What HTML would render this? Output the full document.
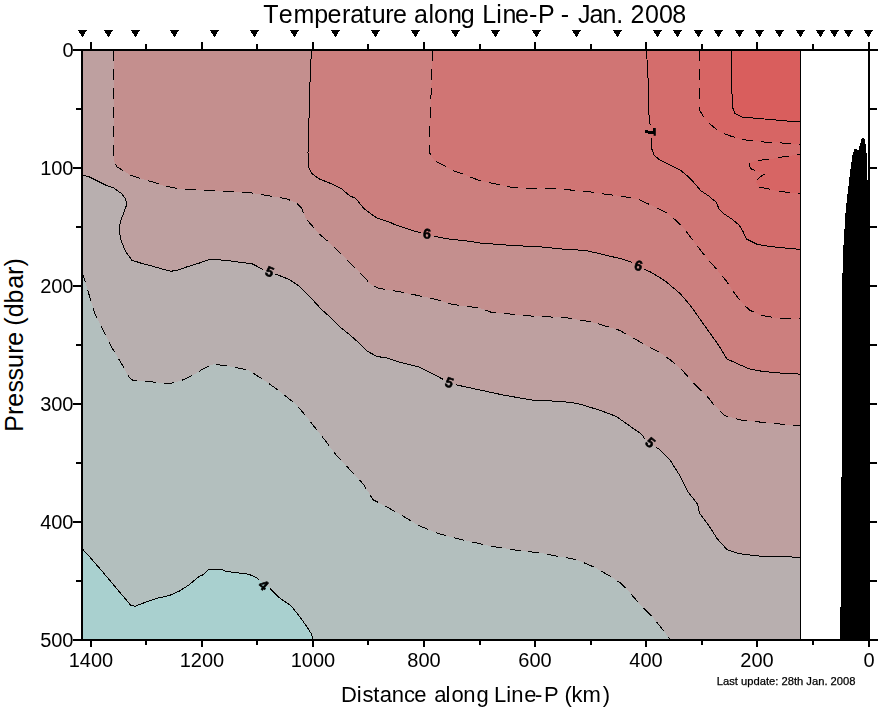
<!DOCTYPE html>
<html><head><meta charset="utf-8"><title>Temperature along Line-P - Jan. 2008</title>
<style>html,body{margin:0;padding:0;background:#fff;overflow:hidden}svg{display:block}
text{font-family:"Liberation Sans",sans-serif;font-kerning:none}</style></head>
<body>
<svg width="878" height="708" viewBox="0 0 878 708" font-family="Liberation Sans, sans-serif">
<rect width="878" height="708" fill="#fff"/>
<g shape-rendering="crispEdges">
<rect x="82" y="50" width="718" height="590" fill="#b3bfbe"/>
<polygon points="82.0,548.5 90.0,557.3 100.9,569.8 116.6,588.5 131.0,605.5 135.2,606.2 146.5,601.9 156.4,598.4 169.1,595.6 179.0,591.3 188.9,585.0 195.0,579.9 199.3,576.4 202.8,574.9 209.2,569.2 222.0,569.2 224.9,571.0 236.3,572.8 244.8,573.5 252.0,575.4 257.6,578.5 263.0,583.0 269.0,587.7 277.6,596.3 283.3,600.6 289.7,604.8 293.2,608.4 300.4,617.6 307.5,627.6 311.0,633.3 313.2,640.0 82.0,640.0" fill="#a9d0cf"/>
<polygon points="82.0,271.8 86.4,285.6 90.6,300.0 94.8,313.3 103.7,331.1 112.6,348.8 121.5,363.6 128.9,377.0 133.3,380.8 148.1,381.4 168.8,383.8 180.7,380.8 192.5,375.5 204.4,368.1 213.3,364.2 228.0,366.0 248.8,370.2 263.6,379.9 278.4,390.3 293.2,402.1 300.0,408.9 311.9,423.7 323.7,438.6 335.6,454.4 349.4,469.2 363.3,484.1 373.2,499.9 383.1,504.8 398.9,513.7 418.7,525.6 438.4,533.5 456.2,538.4 489.0,545.8 521.0,551.0 540.0,552.8 558.2,556.4 572.8,558.8 581.9,561.9 594.7,567.4 609.2,575.6 620.2,582.8 629.3,592.0 640.2,604.7 651.2,615.6 660.3,626.6 669.4,638.4 670.5,640.0 800.0,640.0 800.0,50.0 82.0,50.0" fill="#b8afaf"/>
<polygon points="82.0,175.0 88.5,176.5 97.0,180.7 105.4,185.0 113.9,188.1 121.3,193.4 125.6,198.7 126.6,205.0 123.4,213.6 120.3,222.0 119.2,230.5 121.3,241.1 125.6,251.7 131.9,260.2 141.4,263.3 152.0,266.1 162.6,269.1 171.1,271.2 177.5,270.3 188.0,266.5 198.6,263.3 209.2,259.7 217.7,259.7 228.3,260.6 240.0,262.3 251.8,263.6 265.0,270.4 280.0,275.8 289.9,279.8 299.8,286.7 309.7,296.6 321.5,309.4 331.4,318.3 341.3,328.2 349.2,334.2 359.1,343.1 367.0,351.0 376.9,356.5 386.8,357.9 398.7,361.9 418.4,366.8 430.3,372.7 440.0,377.7 448.7,382.1 456.8,385.0 481.0,390.2 505.0,395.4 533.2,400.2 561.4,401.4 577.4,403.4 600.0,410.3 616.0,416.3 634.8,429.5 641.4,434.1 644.8,438.8 650.5,442.5 655.0,446.3 660.0,449.9 669.9,459.8 679.8,475.6 687.7,491.4 697.6,504.3 699.5,513.2 708.4,525.0 717.3,538.9 727.2,549.7 739.1,553.7 764.8,556.7 800.0,557.1 800.0,50.0 82.0,50.0" fill="#bea0a0"/>
<polygon points="113.6,50.0 113.5,100.0 113.5,152.0 113.9,160.6 117.0,167.0 122.4,170.1 130.8,175.4 141.4,178.6 152.0,181.8 164.7,186.0 177.5,188.6 196.5,189.8 217.7,190.9 240.0,192.0 248.0,192.3 256.5,193.8 273.6,196.6 286.0,198.6 295.8,202.5 301.7,208.4 305.7,218.3 311.6,225.2 319.5,234.1 327.4,241.0 339.3,252.0 348.2,261.0 355.2,267.9 363.0,275.8 370.0,283.7 376.9,287.7 386.8,289.7 398.7,291.6 408.6,293.6 418.4,295.6 428.3,297.6 440.0,300.5 452.6,304.5 480.0,308.0 490.7,312.1 528.8,315.9 567.0,317.8 589.9,321.6 600.0,324.4 619.8,330.4 647.5,346.2 660.0,352.5 670.0,359.7 681.9,369.8 695.4,385.1 709.0,398.6 713.4,404.3 718.7,409.5 724.6,415.5 738.5,419.4 743.3,420.4 769.5,423.0 800.0,426.0 800.0,50.0" fill="#c48f8e"/>
<polygon points="311.5,50.0 310.8,62.6 309.9,85.2 309.2,107.8 308.8,130.4 308.0,153.0 308.5,166.5 311.5,173.3 319.4,179.0 330.7,183.5 342.0,189.1 349.6,195.8 355.5,198.2 363.0,207.5 364.8,209.1 372.9,215.4 378.2,218.6 388.7,221.7 395.3,224.9 414.0,231.0 420.0,232.5 427.0,234.5 444.9,238.5 471.6,241.5 480.0,243.0 509.8,245.3 547.9,247.3 555.0,248.6 586.0,250.5 611.5,256.5 623.7,259.5 632.8,262.8 638.0,265.5 644.0,269.3 649.7,271.6 655.3,274.8 665.4,281.2 670.0,285.1 680.2,293.6 690.3,305.4 700.5,319.8 710.7,334.2 719.2,346.1 726.8,358.8 737.8,363.9 749.7,369.0 763.2,371.5 781.9,373.2 800.0,374.1 800.0,50.0" fill="#cc7f7e"/>
<polygon points="432.3,50.0 431.9,73.9 430.5,107.8 429.6,134.9 429.6,153.0 434.6,160.9 443.6,165.4 452.7,170.6 464.0,174.4 479.3,180.5 509.8,187.0 528.9,188.4 547.9,188.1 574.0,190.3 586.0,191.2 607.9,194.6 620.0,195.8 639.6,199.8 647.6,203.6 657.8,208.2 668.0,213.8 675.6,220.1 683.2,227.8 688.3,234.1 694.7,243.0 701.0,250.7 708.7,260.8 713.8,265.9 720.1,273.6 726.5,281.2 734.1,292.6 741.8,302.8 749.4,309.9 759.6,315.0 777.4,318.1 800.0,319.0 800.0,50.0" fill="#d07574"/>
<polygon points="646.5,50.0 648.0,77.6 649.0,115.0 651.0,132.0 651.4,147.6 654.0,155.3 660.4,160.4 670.5,165.4 680.7,170.5 687.0,175.6 693.4,182.0 701.0,190.9 708.7,196.0 716.3,202.3 718.9,208.7 724.0,213.8 731.6,218.9 739.2,225.2 743.0,231.6 746.8,239.2 757.0,244.3 772.3,246.8 800.0,249.4 800.0,50.0" fill="#d46d6c"/>
<polygon points="699.5,50.0 699.5,110.0 704.4,118.0 711.0,124.8 719.0,131.6 730.5,136.0 741.8,139.5 757.0,141.3 765.4,142.1 777.3,142.4 787.5,143.6 800.0,144.3 800.0,50.0" fill="#d76564"/>
<polygon points="800.0,154.4 789.0,156.0 778.0,157.5 769.0,159.5 760.0,159.7 758.0,160.3 749.3,162.9 749.7,166.3 751.0,168.8 754.8,170.5 764.6,173.9 760.0,177.0 757.0,179.8 756.0,182.4 759.5,187.0 769.7,189.2 779.0,191.3 790.0,192.5 800.0,193.4" fill="#d76564"/>
<polygon points="732.0,50.0 731.6,62.6 731.6,85.2 732.7,107.8 735.0,113.5 741.8,117.0 764.4,119.0 787.0,121.0 800.0,121.9 800.0,50.0" fill="#d95e5d"/>
</g>
<g shape-rendering="crispEdges">
<polyline points="82.0,548.5 90.0,557.3 100.9,569.8 116.6,588.5 131.0,605.5 135.2,606.2 146.5,601.9 156.4,598.4 169.1,595.6 179.0,591.3 188.9,585.0 195.0,579.9 199.3,576.4 202.8,574.9 209.2,569.2 222.0,569.2 224.9,571.0 236.3,572.8 244.8,573.5 252.0,575.4 257.6,578.5 259.1,579.8" fill="none" stroke="#000" stroke-width="1"/>
<polyline points="269.7,588.4 277.6,596.3 283.3,600.6 289.7,604.8 293.2,608.4 300.4,617.6 307.5,627.6 311.0,633.3 313.2,640.0" fill="none" stroke="#000" stroke-width="1"/>
<polyline points="82.0,271.8 86.4,285.6 90.6,300.0 94.8,313.3 103.7,331.1 112.6,348.8 121.5,363.6 128.9,377.0 133.3,380.8 148.1,381.4 168.8,383.8 180.7,380.8 192.5,375.5 204.4,368.1 213.3,364.2 228.0,366.0 248.8,370.2 263.6,379.9 278.4,390.3 293.2,402.1 300.0,408.9 311.9,423.7 323.7,438.6 335.6,454.4 349.4,469.2 363.3,484.1 373.2,499.9 383.1,504.8 398.9,513.7 418.7,525.6 438.4,533.5 456.2,538.4 489.0,545.8 521.0,551.0 540.0,552.8 558.2,556.4 572.8,558.8 581.9,561.9 594.7,567.4 609.2,575.6 620.2,582.8 629.3,592.0 640.2,604.7 651.2,615.6 660.3,626.6 669.4,638.4 670.5,640.0" fill="none" stroke="#000" stroke-width="1" stroke-dasharray="11 8"/>
<polyline points="82.0,175.0 88.5,176.5 97.0,180.7 105.4,185.0 113.9,188.1 121.3,193.4 125.6,198.7 126.6,205.0 123.4,213.6 120.3,222.0 119.2,230.5 121.3,241.1 125.6,251.7 131.9,260.2 141.4,263.3 152.0,266.1 162.6,269.1 171.1,271.2 177.5,270.3 188.0,266.5 198.6,263.3 209.2,259.7 217.7,259.7 228.3,260.6 240.0,262.3 251.8,263.6 263.2,269.5" fill="none" stroke="#000" stroke-width="1"/>
<polyline points="275.6,274.2 280.0,275.8 289.9,279.8 299.8,286.7 309.7,296.6 321.5,309.4 331.4,318.3 341.3,328.2 349.2,334.2 359.1,343.1 367.0,351.0 376.9,356.5 386.8,357.9 398.7,361.9 418.4,366.8 430.3,372.7 440.0,377.7 443.2,379.3" fill="none" stroke="#000" stroke-width="1"/>
<polyline points="455.8,384.7 456.8,385.0 481.0,390.2 505.0,395.4 533.2,400.2 561.4,401.4 577.4,403.4 600.0,410.3 616.0,416.3 634.8,429.5 641.4,434.1 644.8,438.8" fill="none" stroke="#000" stroke-width="1"/>
<polyline points="655.8,446.9 660.0,449.9 669.9,459.8 679.8,475.6 687.7,491.4 697.6,504.3 699.5,513.2 708.4,525.0 717.3,538.9 727.2,549.7 739.1,553.7 764.8,556.7 800.0,557.1" fill="none" stroke="#000" stroke-width="1"/>
<polyline points="113.6,50.0 113.5,100.0 113.5,152.0 113.9,160.6 117.0,167.0 122.4,170.1 130.8,175.4 141.4,178.6 152.0,181.8 164.7,186.0 177.5,188.6 196.5,189.8 217.7,190.9 240.0,192.0 248.0,192.3 256.5,193.8 273.6,196.6 286.0,198.6 295.8,202.5 301.7,208.4 305.7,218.3 311.6,225.2 319.5,234.1 327.4,241.0 339.3,252.0 348.2,261.0 355.2,267.9 363.0,275.8 370.0,283.7 376.9,287.7 386.8,289.7 398.7,291.6 408.6,293.6 418.4,295.6 428.3,297.6 440.0,300.5 452.6,304.5 480.0,308.0 490.7,312.1 528.8,315.9 567.0,317.8 589.9,321.6 600.0,324.4 619.8,330.4 647.5,346.2 660.0,352.5 670.0,359.7 681.9,369.8 695.4,385.1 709.0,398.6 713.4,404.3 718.7,409.5 724.6,415.5 738.5,419.4 743.3,420.4 769.5,423.0 800.0,426.0" fill="none" stroke="#000" stroke-width="1" stroke-dasharray="11 8"/>
<polyline points="311.5,50.0 310.8,62.6 309.9,85.2 309.2,107.8 308.8,130.4 308.0,153.0 308.5,166.5 311.5,173.3 319.4,179.0 330.7,183.5 342.0,189.1 349.6,195.8 355.5,198.2 363.0,207.5 364.8,209.1 372.9,215.4 378.2,218.6 388.7,221.7 395.3,224.9 414.0,231.0 420.0,232.5 420.5,232.6" fill="none" stroke="#000" stroke-width="1"/>
<polyline points="433.5,235.9 444.9,238.5 471.6,241.5 480.0,243.0 509.8,245.3 547.9,247.3 555.0,248.6 586.0,250.5 611.5,256.5 623.7,259.5 632.3,262.6" fill="none" stroke="#000" stroke-width="1"/>
<polyline points="644.0,269.3 649.7,271.6 655.3,274.8 665.4,281.2 670.0,285.1 680.2,293.6 690.3,305.4 700.5,319.8 710.7,334.2 719.2,346.1 726.8,358.8 737.8,363.9 749.7,369.0 763.2,371.5 781.9,373.2 800.0,374.1" fill="none" stroke="#000" stroke-width="1"/>
<polyline points="432.3,50.0 431.9,73.9 430.5,107.8 429.6,134.9 429.6,153.0 434.6,160.9 443.6,165.4 452.7,170.6 464.0,174.4 479.3,180.5 509.8,187.0 528.9,188.4 547.9,188.1 574.0,190.3 586.0,191.2 607.9,194.6 620.0,195.8 639.6,199.8 647.6,203.6 657.8,208.2 668.0,213.8 675.6,220.1 683.2,227.8 688.3,234.1 694.7,243.0 701.0,250.7 708.7,260.8 713.8,265.9 720.1,273.6 726.5,281.2 734.1,292.6 741.8,302.8 749.4,309.9 759.6,315.0 777.4,318.1 800.0,319.0" fill="none" stroke="#000" stroke-width="1" stroke-dasharray="11 8"/>
<polyline points="646.5,50.0 648.0,77.6 649.0,115.0 650.2,125.5" fill="none" stroke="#000" stroke-width="1"/>
<polyline points="651.2,138.5 651.4,147.6 654.0,155.3 660.4,160.4 670.5,165.4 680.7,170.5 687.0,175.6 693.4,182.0 701.0,190.9 708.7,196.0 716.3,202.3 718.9,208.7 724.0,213.8 731.6,218.9 739.2,225.2 743.0,231.6 746.8,239.2 757.0,244.3 772.3,246.8 800.0,249.4" fill="none" stroke="#000" stroke-width="1"/>
<polyline points="699.5,50.0 699.5,110.0 704.4,118.0 711.0,124.8 719.0,131.6 730.5,136.0 741.8,139.5 757.0,141.3 765.4,142.1 777.3,142.4 787.5,143.6 800.0,144.3" fill="none" stroke="#000" stroke-width="1" stroke-dasharray="11 8"/>
<polyline points="732.0,50.0 731.6,62.6 731.6,85.2 732.7,107.8 735.0,113.5 741.8,117.0 764.4,119.0 787.0,121.0 800.0,121.9" fill="none" stroke="#000" stroke-width="1"/>
<polyline points="800.0,154.4 797.0,154.8" fill="none" stroke="#000" stroke-width="1"/>
<polyline points="789.2,156.1 778.1,157.5" fill="none" stroke="#000" stroke-width="1"/>
<polyline points="768.8,159.5 758.2,160.3" fill="none" stroke="#000" stroke-width="1"/>
<polyline points="749.3,162.9 749.7,166.3 751.0,168.8 754.8,170.5" fill="none" stroke="#000" stroke-width="1"/>
<polyline points="764.6,173.9 760.0,177.0 757.0,179.8" fill="none" stroke="#000" stroke-width="1"/>
<polyline points="759.5,187.0 769.7,189.2" fill="none" stroke="#000" stroke-width="1"/>
<polyline points="779.0,191.3 790.0,192.5" fill="none" stroke="#000" stroke-width="1"/>
<polyline points="798.0,193.3 800.0,193.4" fill="none" stroke="#000" stroke-width="1"/>
</g>
<g shape-rendering="crispEdges"><polygon points="867.0,180.0 867.0,160.0 866.0,146.2 864.6,139.3 863.4,137.6 861.4,139.5 860.2,144.0 859.1,147.8 858.4,151.0 857.0,149.4 855.4,148.6 854.2,149.6 853.1,153.0 852.2,156.8 851.2,164.2 850.1,172.7 849.0,180.0 848.2,189.6 847.1,197.0 845.4,214.0 844.4,230.9 843.1,251.2 842.0,292.0 842.0,476.0 841.0,477.7 841.0,606.6 839.7,608.3 839.7,640.0 869.0,640.0 869.0,180.0" fill="#000"/></g>
<g style="filter:saturate(0)">
<text transform="translate(263.8 584.8) rotate(40)" x="0" y="5" text-anchor="middle" font-size="14" font-weight="bold" stroke="#000" stroke-width="0.6">4</text>
<text transform="translate(269.7 271.5) rotate(22)" x="0" y="5" text-anchor="middle" font-size="14" font-weight="bold" stroke="#000" stroke-width="0.6">5</text>
<text transform="translate(449.4 382.3) rotate(20)" x="0" y="5" text-anchor="middle" font-size="14" font-weight="bold" stroke="#000" stroke-width="0.6">5</text>
<text transform="translate(650.5 442.4) rotate(40)" x="0" y="5" text-anchor="middle" font-size="14" font-weight="bold" stroke="#000" stroke-width="0.6">5</text>
<text transform="translate(427.0 233.6) rotate(5)" x="0" y="5" text-anchor="middle" font-size="14" font-weight="bold" stroke="#000" stroke-width="0.6">6</text>
<text transform="translate(638.5 265.5) rotate(15)" x="0" y="5" text-anchor="middle" font-size="14" font-weight="bold" stroke="#000" stroke-width="0.6">6</text>
<path d="M645 130.1h3v0.9h5v-3h2.8v7.8h-2.2v-1.9h-5.6v-1h-3z" fill="#000"/>
</g>
<g shape-rendering="crispEdges">
<line x1="800.5" y1="50" x2="800.5" y2="640" stroke="#000" stroke-width="1"/>
<rect x="73" y="49" width="805" height="2" fill="#000"/>
<rect x="73" y="639" width="805" height="2" fill="#000"/>
<rect x="81" y="49" width="2" height="592" fill="#000"/>
<rect x="868" y="49" width="2" height="592" fill="#000"/>
<rect x="73" y="49" width="8" height="2" fill="#000"/>
<rect x="870" y="49" width="7" height="2" fill="#000"/>
<rect x="76" y="108" width="5" height="2" fill="#000"/>
<rect x="870" y="108" width="7" height="2" fill="#000"/>
<rect x="73" y="167" width="8" height="2" fill="#000"/>
<rect x="870" y="167" width="7" height="2" fill="#000"/>
<rect x="76" y="226" width="5" height="2" fill="#000"/>
<rect x="870" y="226" width="7" height="2" fill="#000"/>
<rect x="73" y="285" width="8" height="2" fill="#000"/>
<rect x="870" y="285" width="7" height="2" fill="#000"/>
<rect x="76" y="344" width="5" height="2" fill="#000"/>
<rect x="870" y="344" width="7" height="2" fill="#000"/>
<rect x="73" y="403" width="8" height="2" fill="#000"/>
<rect x="870" y="403" width="7" height="2" fill="#000"/>
<rect x="76" y="462" width="5" height="2" fill="#000"/>
<rect x="870" y="462" width="7" height="2" fill="#000"/>
<rect x="73" y="521" width="8" height="2" fill="#000"/>
<rect x="870" y="521" width="7" height="2" fill="#000"/>
<rect x="76" y="580" width="5" height="2" fill="#000"/>
<rect x="870" y="580" width="7" height="2" fill="#000"/>
<rect x="73" y="639" width="8" height="2" fill="#000"/>
<rect x="870" y="639" width="7" height="2" fill="#000"/>
<rect x="90" y="42" width="2" height="7" fill="#000"/>
<rect x="90" y="641" width="2" height="6" fill="#000"/>
<rect x="145" y="44" width="2" height="5" fill="#000"/>
<rect x="145" y="641" width="2" height="4" fill="#000"/>
<rect x="201" y="42" width="2" height="7" fill="#000"/>
<rect x="201" y="641" width="2" height="6" fill="#000"/>
<rect x="256" y="44" width="2" height="5" fill="#000"/>
<rect x="256" y="641" width="2" height="4" fill="#000"/>
<rect x="312" y="42" width="2" height="7" fill="#000"/>
<rect x="312" y="641" width="2" height="6" fill="#000"/>
<rect x="367" y="44" width="2" height="5" fill="#000"/>
<rect x="367" y="641" width="2" height="4" fill="#000"/>
<rect x="423" y="42" width="2" height="7" fill="#000"/>
<rect x="423" y="641" width="2" height="6" fill="#000"/>
<rect x="479" y="44" width="2" height="5" fill="#000"/>
<rect x="479" y="641" width="2" height="4" fill="#000"/>
<rect x="534" y="42" width="2" height="7" fill="#000"/>
<rect x="534" y="641" width="2" height="6" fill="#000"/>
<rect x="590" y="44" width="2" height="5" fill="#000"/>
<rect x="590" y="641" width="2" height="4" fill="#000"/>
<rect x="645" y="42" width="2" height="7" fill="#000"/>
<rect x="645" y="641" width="2" height="6" fill="#000"/>
<rect x="701" y="44" width="2" height="5" fill="#000"/>
<rect x="701" y="641" width="2" height="4" fill="#000"/>
<rect x="756" y="42" width="2" height="7" fill="#000"/>
<rect x="756" y="641" width="2" height="6" fill="#000"/>
<rect x="812" y="44" width="2" height="5" fill="#000"/>
<rect x="812" y="641" width="2" height="4" fill="#000"/>
<rect x="868" y="42" width="2" height="7" fill="#000"/>
<rect x="868" y="641" width="2" height="6" fill="#000"/>
</g>
<g shape-rendering="crispEdges">
<polygon points="78.0,30 87.0,30 82.5,37.5" fill="#000"/>
<polygon points="104.0,30 113.0,30 108.5,37.5" fill="#000"/>
<polygon points="131.0,30 140.0,30 135.5,37.5" fill="#000"/>
<polygon points="170.0,30 179.0,30 174.5,37.5" fill="#000"/>
<polygon points="210.0,30 219.0,30 214.5,37.5" fill="#000"/>
<polygon points="250.0,30 259.0,30 254.5,37.5" fill="#000"/>
<polygon points="290.0,30 299.0,30 294.5,37.5" fill="#000"/>
<polygon points="331.0,30 340.0,30 335.5,37.5" fill="#000"/>
<polygon points="371.0,30 380.0,30 375.5,37.5" fill="#000"/>
<polygon points="411.0,30 420.0,30 415.5,37.5" fill="#000"/>
<polygon points="451.0,30 460.0,30 455.5,37.5" fill="#000"/>
<polygon points="491.0,30 500.0,30 495.5,37.5" fill="#000"/>
<polygon points="532.0,30 541.0,30 536.5,37.5" fill="#000"/>
<polygon points="572.0,30 581.0,30 576.5,37.5" fill="#000"/>
<polygon points="613.0,30 622.0,30 617.5,37.5" fill="#000"/>
<polygon points="653.0,30 662.0,30 657.5,37.5" fill="#000"/>
<polygon points="673.0,30 682.0,30 677.5,37.5" fill="#000"/>
<polygon points="694.0,30 703.0,30 698.5,37.5" fill="#000"/>
<polygon points="714.0,30 723.0,30 718.5,37.5" fill="#000"/>
<polygon points="735.0,30 744.0,30 739.5,37.5" fill="#000"/>
<polygon points="755.0,30 764.0,30 759.5,37.5" fill="#000"/>
<polygon points="775.0,30 784.0,30 779.5,37.5" fill="#000"/>
<polygon points="796.0,30 805.0,30 800.5,37.5" fill="#000"/>
<polygon points="816.0,30 825.0,30 820.5,37.5" fill="#000"/>
<polygon points="830.0,30 839.0,30 834.5,37.5" fill="#000"/>
<polygon points="844.0,30 853.0,30 848.5,37.5" fill="#000"/>
<polygon points="864.0,30 873.0,30 868.5,37.5" fill="#000"/>
</g>
<g fill="#000">
<text x="263.24 278.84 293.44 314.19 327.54 342.04 350.34 363.82 371.68 385.34 393.04 406.94 414.04 428.42 434.05 448.04 460.75 474.65 482.15 496.33 502.54 514.94 528.89 537.95 554.62 560.79 569.12 577.91 589.54 602.44 616.22 623.17 630.54 645.12 659.02 672.21" y="23" font-size="25">Temperature along Line-P - Jan. 2008</text>
<text x="73.5" y="56.8" text-anchor="end" font-size="20">0</text>
<text x="73.5" y="174.8" text-anchor="end" font-size="20">100</text>
<text x="73.5" y="292.8" text-anchor="end" font-size="20">200</text>
<text x="73.5" y="410.8" text-anchor="end" font-size="20">300</text>
<text x="73.5" y="528.8" text-anchor="end" font-size="20">400</text>
<text x="73.5" y="646.8" text-anchor="end" font-size="20">500</text>
<text x="91.0" y="666.6" text-anchor="middle" font-size="20">1400</text>
<text x="202.0" y="666.6" text-anchor="middle" font-size="20">1200</text>
<text x="313.0" y="666.6" text-anchor="middle" font-size="20">1000</text>
<text x="424.0" y="666.6" text-anchor="middle" font-size="20">800</text>
<text x="535.0" y="666.6" text-anchor="middle" font-size="20">600</text>
<text x="646.0" y="666.6" text-anchor="middle" font-size="20">400</text>
<text x="757.0" y="666.6" text-anchor="middle" font-size="20">200</text>
<text x="869.0" y="666.6" text-anchor="middle" font-size="20">0</text>
<text x="340.9 356.73 362.49 373.17 379.87 391.64 404.07 414.27 426.51 434.17 445.42 451.48 463.24 476.48 488.72 494.1 506.33 511.34 524.17 535.02 544.1 558.77 564.44 571.42 582.54 602.67" y="702" font-size="22">Distance along Line-P (km)</text>
<text transform="rotate(-90)" x="-431.85 -414.96 -406.76 -392.4 -380.5 -368.12 -353.76 -345.76 -331.86 -325.75 -317.35 -303.61 -288.76 -274.96 -266.55" y="23" font-size="25">Pressure (dbar)</text>
<text x="855.5" y="685" text-anchor="end" font-size="11.2" stroke="#000" stroke-width="0.25">Last update: 28th Jan. 2008</text>
</g>
</svg>
</body></html>
